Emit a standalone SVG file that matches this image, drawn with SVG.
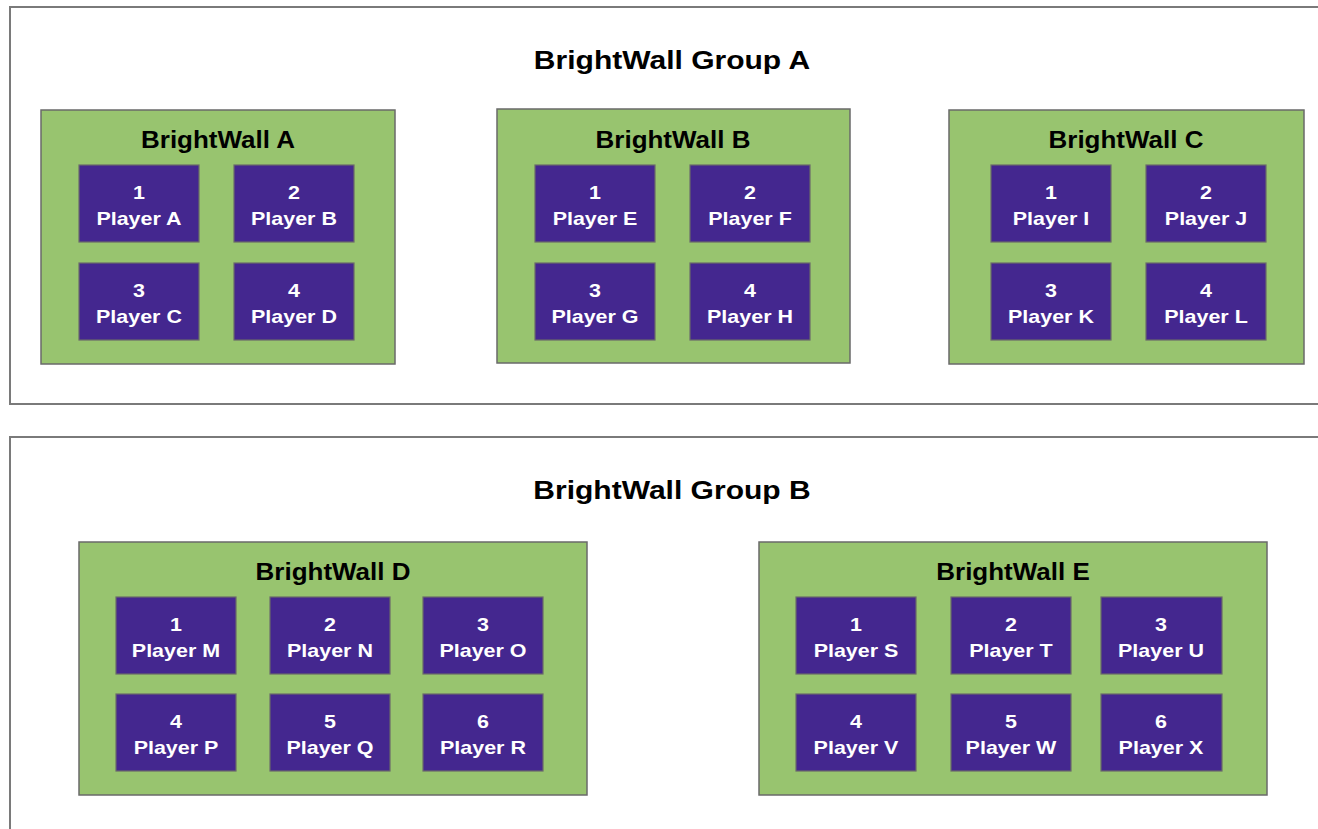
<svg xmlns="http://www.w3.org/2000/svg" width="1318" height="829" viewBox="0 0 1318 829">
<style>
.grp{fill:#ffffff;stroke:#7a7a7a;stroke-width:2}
.wall{fill:#98c46f;stroke:#6a6a6a;stroke-width:1.5}
.pl{fill:#44278f;stroke:#6a6a6a;stroke-width:1.2}
text{font-family:"Liberation Sans",Arial,sans-serif;font-weight:bold;text-anchor:middle;transform-box:fill-box;transform-origin:center}
.gt{font-size:26px;fill:#000;transform:scaleX(1.155)}
.wt{font-size:23px;fill:#000;transform:scaleX(1.13)}
.pt{font-size:19px;fill:#fff;transform:scaleX(1.13)}
</style>
<rect width="1318" height="829" fill="#ffffff"/>
<g id="groupA">
<rect class="grp" x="10" y="7" width="1330" height="397"/>
<text class="gt" x="672" y="69">BrightWall Group A</text>
</g>
<g id="groupB">
<rect class="grp" x="10" y="437" width="1330" height="420"/>
<text class="gt" x="672" y="499">BrightWall Group B</text>
</g>
<g id="wallA">
<rect class="wall" x="41" y="110" width="354" height="254"/>
<text class="wt" x="218" y="148">BrightWall A</text>
</g>
<g id="wallB">
<rect class="wall" x="497" y="109" width="353" height="254"/>
<text class="wt" x="673" y="148">BrightWall B</text>
</g>
<g id="wallC">
<rect class="wall" x="949" y="110" width="355" height="254"/>
<text class="wt" x="1126" y="148">BrightWall C</text>
</g>
<g id="wallD">
<rect class="wall" x="79" y="542" width="508" height="253"/>
<text class="wt" x="333" y="580">BrightWall D</text>
</g>
<g id="wallE">
<rect class="wall" x="759" y="542" width="508" height="253"/>
<text class="wt" x="1013" y="580">BrightWall E</text>
</g>
<g id="playerA"><rect class="pl" x="79" y="165" width="120" height="77"/><text class="pt" x="139" y="199">1</text><text class="pt" x="139" y="225">Player A</text></g>
<g id="playerB"><rect class="pl" x="234" y="165" width="120" height="77"/><text class="pt" x="294" y="199">2</text><text class="pt" x="294" y="225">Player B</text></g>
<g id="playerC"><rect class="pl" x="79" y="263" width="120" height="77"/><text class="pt" x="139" y="297">3</text><text class="pt" x="139" y="323">Player C</text></g>
<g id="playerD"><rect class="pl" x="234" y="263" width="120" height="77"/><text class="pt" x="294" y="297">4</text><text class="pt" x="294" y="323">Player D</text></g>
<g id="playerE"><rect class="pl" x="535" y="165" width="120" height="77"/><text class="pt" x="595" y="199">1</text><text class="pt" x="595" y="225">Player E</text></g>
<g id="playerF"><rect class="pl" x="690" y="165" width="120" height="77"/><text class="pt" x="750" y="199">2</text><text class="pt" x="750" y="225">Player F</text></g>
<g id="playerG"><rect class="pl" x="535" y="263" width="120" height="77"/><text class="pt" x="595" y="297">3</text><text class="pt" x="595" y="323">Player G</text></g>
<g id="playerH"><rect class="pl" x="690" y="263" width="120" height="77"/><text class="pt" x="750" y="297">4</text><text class="pt" x="750" y="323">Player H</text></g>
<g id="playerI"><rect class="pl" x="991" y="165" width="120" height="77"/><text class="pt" x="1051" y="199">1</text><text class="pt" x="1051" y="225">Player I</text></g>
<g id="playerJ"><rect class="pl" x="1146" y="165" width="120" height="77"/><text class="pt" x="1206" y="199">2</text><text class="pt" x="1206" y="225">Player J</text></g>
<g id="playerK"><rect class="pl" x="991" y="263" width="120" height="77"/><text class="pt" x="1051" y="297">3</text><text class="pt" x="1051" y="323">Player K</text></g>
<g id="playerL"><rect class="pl" x="1146" y="263" width="120" height="77"/><text class="pt" x="1206" y="297">4</text><text class="pt" x="1206" y="323">Player L</text></g>
<g id="playerM"><rect class="pl" x="116" y="597" width="120" height="77"/><text class="pt" x="176" y="631">1</text><text class="pt" x="176" y="657">Player M</text></g>
<g id="playerN"><rect class="pl" x="270" y="597" width="120" height="77"/><text class="pt" x="330" y="631">2</text><text class="pt" x="330" y="657">Player N</text></g>
<g id="playerO"><rect class="pl" x="423" y="597" width="120" height="77"/><text class="pt" x="483" y="631">3</text><text class="pt" x="483" y="657">Player O</text></g>
<g id="playerP"><rect class="pl" x="116" y="694" width="120" height="77"/><text class="pt" x="176" y="728">4</text><text class="pt" x="176" y="754">Player P</text></g>
<g id="playerQ"><rect class="pl" x="270" y="694" width="120" height="77"/><text class="pt" x="330" y="728">5</text><text class="pt" x="330" y="754">Player Q</text></g>
<g id="playerR"><rect class="pl" x="423" y="694" width="120" height="77"/><text class="pt" x="483" y="728">6</text><text class="pt" x="483" y="754">Player R</text></g>
<g id="playerS"><rect class="pl" x="796" y="597" width="120" height="77"/><text class="pt" x="856" y="631">1</text><text class="pt" x="856" y="657">Player S</text></g>
<g id="playerT"><rect class="pl" x="951" y="597" width="120" height="77"/><text class="pt" x="1011" y="631">2</text><text class="pt" x="1011" y="657">Player T</text></g>
<g id="playerU"><rect class="pl" x="1101" y="597" width="121" height="77"/><text class="pt" x="1161" y="631">3</text><text class="pt" x="1161" y="657">Player U</text></g>
<g id="playerV"><rect class="pl" x="796" y="694" width="120" height="77"/><text class="pt" x="856" y="728">4</text><text class="pt" x="856" y="754">Player V</text></g>
<g id="playerW"><rect class="pl" x="951" y="694" width="120" height="77"/><text class="pt" x="1011" y="728">5</text><text class="pt" x="1011" y="754">Player W</text></g>
<g id="playerX"><rect class="pl" x="1101" y="694" width="121" height="77"/><text class="pt" x="1161" y="728">6</text><text class="pt" x="1161" y="754">Player X</text></g>
<g id="connectors"></g>
</svg>
